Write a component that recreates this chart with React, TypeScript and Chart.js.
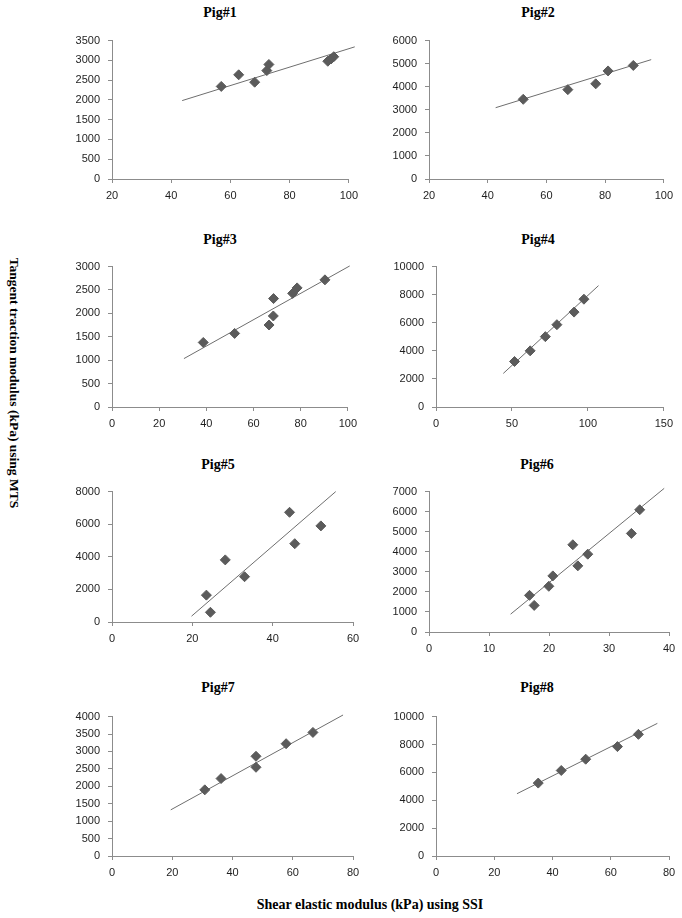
import React, { useEffect, useRef } from "react";
import { Chart, registerables } from "chart.js";
Chart.register(...registerables);

// ---- data ----
const pig1X = [56.9, 62.8, 68.2, 72.3, 73.0, 92.9, 94.0, 94.9];
const pig1Y = [2341, 2635, 2448, 2741, 2896, 2978, 3035, 3092];
const pig1TrendX = [43.7, 102];
const pig1TrendY = [1983, 3342];
const pig1XAxis = [20, 100, 20];
const pig1YAxis = [0, 3500, 500];

const pig2X = [52.1, 67.3, 76.8, 81.0, 89.6];
const pig2Y = [3455, 3874, 4126, 4685, 4923];
const pig2TrendX = [42.7, 95.7];
const pig2TrendY = [3091, 5175];
const pig2XAxis = [20, 100, 20];
const pig2YAxis = [0, 6000, 1000];

const pig3X = [38.7, 52.0, 66.6, 68.4, 68.5, 76.6, 78.5, 90.3];
const pig3Y = [1379, 1572, 1752, 1945, 2317, 2428, 2545, 2717];
const pig3TrendX = [30.5, 100.8];
const pig3TrendY = [1034, 3014];
const pig3XAxis = [0, 100, 20];
const pig3YAxis = [0, 3000, 500];

const pig4X = [51.7, 62.0, 72.0, 79.6, 90.9, 97.4];
const pig4Y = [3241, 4000, 5012, 5862, 6759, 7678];
const pig4TrendX = [44.3, 107.0];
const pig4TrendY = [2391, 8644];
const pig4XAxis = [0, 150, 50];
const pig4YAxis = [0, 10000, 2000];

const pig5X = [23.5, 24.5, 28.2, 33.0, 44.2, 45.5, 52.0];
const pig5Y = [1648, 596, 3811, 2779, 6730, 4804, 5896];
const pig5TrendX = [19.8, 55.7];
const pig5TrendY = [357, 8000];
const pig5XAxis = [0, 60, 20];
const pig5YAxis = [0, 8000, 2000];

const pig6X = [16.75, 17.53, 19.97, 20.64, 23.97, 24.8, 26.46, 33.73, 35.12];
const pig6Y = [1827, 1326, 2279, 2797, 4349, 3298, 3880, 4914, 6095];
const pig6TrendX = [13.6, 39.2];
const pig6TrendY = [889, 7162];
const pig6XAxis = [0, 40, 10];
const pig6YAxis = [0, 7000, 1000];

const pig7X = [30.8, 36.2, 47.8, 47.8, 57.8, 66.7];
const pig7Y = [1898, 2222, 2861, 2546, 3222, 3546];
const pig7TrendX = [19.5, 76.7];
const pig7TrendY = [1324, 4046];
const pig7XAxis = [0, 80, 20];
const pig7YAxis = [0, 4000, 500];

const pig8X = [35.1, 43.0, 51.4, 62.3, 69.5];
const pig8Y = [5231, 6134, 6944, 7847, 8727];
const pig8TrendX = [27.8, 76.0];
const pig8TrendY = [4468, 9514];
const pig8XAxis = [0, 80, 20];
const pig8YAxis = [0, 10000, 2000];

const titles = ["Pig#1", "Pig#2", "Pig#3", "Pig#4", "Pig#5", "Pig#6", "Pig#7", "Pig#8"];
const yAxisTitle = "Tangent traction modulus (kPa) using MTS";
const xAxisTitle = "Shear elastic modulus (kPa) using SSI";

const panels = [
  { x: pig1X, y: pig1Y, tx: pig1TrendX, ty: pig1TrendY, xa: pig1XAxis, ya: pig1YAxis },
  { x: pig2X, y: pig2Y, tx: pig2TrendX, ty: pig2TrendY, xa: pig2XAxis, ya: pig2YAxis },
  { x: pig3X, y: pig3Y, tx: pig3TrendX, ty: pig3TrendY, xa: pig3XAxis, ya: pig3YAxis },
  { x: pig4X, y: pig4Y, tx: pig4TrendX, ty: pig4TrendY, xa: pig4XAxis, ya: pig4YAxis },
  { x: pig5X, y: pig5Y, tx: pig5TrendX, ty: pig5TrendY, xa: pig5XAxis, ya: pig5YAxis },
  { x: pig6X, y: pig6Y, tx: pig6TrendX, ty: pig6TrendY, xa: pig6XAxis, ya: pig6YAxis },
  { x: pig7X, y: pig7Y, tx: pig7TrendX, ty: pig7TrendY, xa: pig7XAxis, ya: pig7YAxis },
  { x: pig8X, y: pig8Y, tx: pig8TrendX, ty: pig8TrendY, xa: pig8XAxis, ya: pig8YAxis },
];

// ---- layout (plot-area boxes in page pixels) ----
const boxes = [
  { l: 112, t: 36, r: 351, b: 179, cx: 220, cy: 13 },
  { l: 429, t: 36, r: 666, b: 179, cx: 538, cy: 13 },
  { l: 112, t: 262, r: 350, b: 407, cx: 220, cy: 240 },
  { l: 436, t: 262, r: 666, b: 407, cx: 538, cy: 240 },
  { l: 112, t: 487, r: 353, b: 622, cx: 218, cy: 465 },
  { l: 429, t: 487, r: 669, b: 632, cx: 537, cy: 465 },
  { l: 112, t: 712, r: 353, b: 856, cx: 218, cy: 688 },
  { l: 436, t: 712, r: 669, b: 856, cx: 537, cy: 688 },
];

const YW = 50;
const XH = 26;
const PT = 10;
const PR = 13;
const AXIS = "#8c8c8c";
const TXT = "#1e1e1e";
const TICKFONT = { family: "'Liberation Sans', Arial, sans-serif", size: 11 };
const plain = (v: any) => String(v);

function Panel({ p, box, title }: any) {
  const ref = useRef<HTMLCanvasElement>(null);
  const w = YW + (box.r - box.l) + PR;
  const h = PT + (box.b - box.t) + XH;
  useEffect(() => {
    const chart = new Chart(ref.current as HTMLCanvasElement, {
      type: "scatter",
      data: {
        datasets: [
          {
            data: p.x.map((v: number, i: number) => ({ x: v, y: p.y[i] })),
            pointStyle: "rectRot",
            pointRadius: 5,
            pointHoverRadius: 5,
            backgroundColor: "#5b5b5b",
            borderColor: "#5b5b5b",
            borderWidth: 1,
            order: 0,
          },
          {
            data: p.tx.map((v: number, i: number) => ({ x: v, y: p.ty[i] })),
            showLine: true,
            pointRadius: 0,
            borderColor: "#6e6e6e",
            borderWidth: 1,
            clip: false,
            order: 1,
          } as any,
        ],
      },
      options: {
        responsive: false,
        animation: false,
        devicePixelRatio: 1,
        layout: { padding: { left: 0, top: PT, right: PR, bottom: 0 } },
        plugins: { legend: { display: false }, tooltip: { enabled: false }, title: { display: false } },
        scales: {
          x: {
            type: "linear",
            min: p.xa[0],
            max: p.xa[1],
            ticks: { stepSize: p.xa[2], font: TICKFONT, color: TXT, padding: 6, autoSkip: false, maxRotation: 0, callback: plain },
            grid: { drawOnChartArea: false, drawTicks: true, tickLength: 4, color: AXIS },
            border: { display: true, color: AXIS },
            afterFit: (s: any) => { s.height = XH; },
          },
          y: {
            type: "linear",
            min: p.ya[0],
            max: p.ya[1],
            ticks: { stepSize: p.ya[2], font: TICKFONT, color: TXT, padding: 8, autoSkip: false, callback: plain },
            grid: { drawOnChartArea: false, drawTicks: true, tickLength: 4, color: AXIS },
            border: { display: true, color: AXIS },
            afterFit: (s: any) => { s.width = YW; },
          },
        },
      },
    });
    return () => chart.destroy();
  }, []);
  return (
    <>
      <div
        style={{
          position: "absolute",
          left: box.cx - 60,
          top: box.cy - 9,
          width: 120,
          textAlign: "center",
          font: "bold 14px 'Liberation Serif', 'Times New Roman', serif",
          color: "#000",
          lineHeight: "18px",
        }}
      >
        {title}
      </div>
      <canvas
        ref={ref}
        width={w}
        height={h}
        style={{ position: "absolute", left: box.l - YW, top: box.t - PT, width: w, height: h }}
      />
    </>
  );
}

export default function App() {
  return (
    <div style={{ position: "absolute", left: 0, top: 0, width: 682, height: 918, background: "#fff", overflow: "hidden" }}>
      {panels.map((p, i) => (
        <Panel key={i} p={p} box={boxes[i]} title={titles[i]} />
      ))}
      <div
        style={{
          position: "absolute",
          left: 13 - 200,
          top: 383 - 9,
          width: 400,
          lineHeight: "18px",
          textAlign: "center",
          transform: "rotate(90deg)",
          transformOrigin: "200px 9px",
          font: "bold 13.5px 'Liberation Serif', 'Times New Roman', serif",
          color: "#000",
        }}
      >
        {yAxisTitle}
      </div>
      <div
        style={{
          position: "absolute",
          left: 370 - 200,
          top: 906 - 9,
          width: 400,
          lineHeight: "18px",
          textAlign: "center",
          font: "bold 14px 'Liberation Serif', 'Times New Roman', serif",
          color: "#000",
        }}
      >
        {xAxisTitle}
      </div>
    </div>
  );
}
